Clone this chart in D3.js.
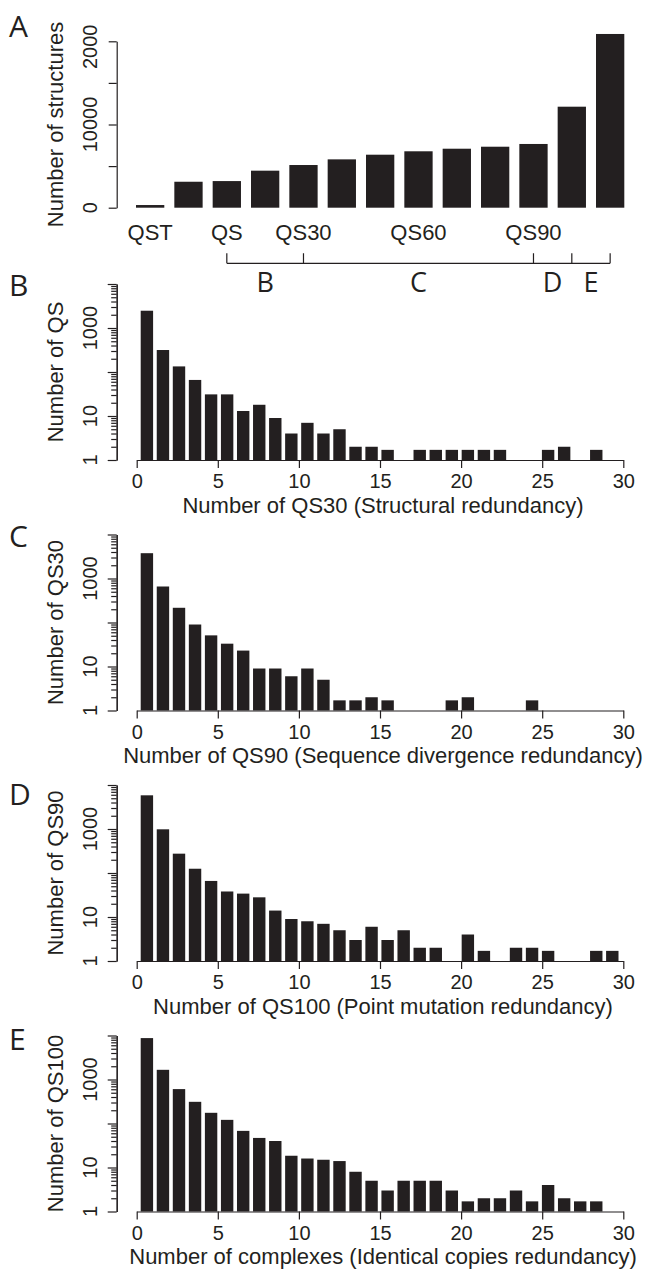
<!DOCTYPE html>
<html><head><meta charset="utf-8">
<script src="https://cdn.jsdelivr.net/npm/d3@7"></script>
<style>body{margin:0;background:#fff}svg{display:block}</style>
</head><body><svg id="c" width="652" height="1269"></svg>
<script>
// ---------- DATA ----------
// Panel A
const structCats = ["QST","b2","QS","b4","QS30","b6","b7","QS60","b9","b10","QS90","b12","b13"];
const structShown = ["QST","QS","QS30","QS60","QS90"];
const structValues = [320,3120,3200,4450,5130,5810,6370,6780,7090,7330,7660,12140,20880];
const structTicks = [0,5000,10000,15000,20000];
const structTickLabels = [0,10000,20000];
const bracketBars = ["QS","QS30","QS90","b12","b13"];
const bracketLabels = ["B","C","D","E"];

// Panels B-E: counts per bin 1..30
const bins = d3.range(1,31);
const qsCounts    = [2470,316,134,66,31,31,13,18,9,4,7,4,5,2,2,1.7,0,1.7,1.7,1.7,1.7,1.7,1.7,0,0,1.7,2,0,1.7,0];
const qs30Counts  = [3760,658,216,90,51,33,23,9,9,6,9,5,1.7,1.7,2,1.7,0,0,0,1.7,2,0,0,0,1.7,0,0,0,0,0];
const qs90Counts  = [5830,984,275,125,66,38,34,28,14,9,8,7,5,3,6,3,5,2,2,0,4,1.7,0,2,2,1.7,0,0,1.7,1.7];
const qs100Counts = [8730,1660,605,311,175,121,68,47,40,18.5,16,15,14,8,5,3,5,5,5,3,1.7,2,2,3,1.7,4,2,1.7,1.7,0];
const xTicks = [0,5,10,15,20,25,30];
const logMajor = [1,10,100,1000,10000];
const logMinor = [0,1,2,3].flatMap(k => d3.range(2,10).map(m => m*Math.pow(10,k)));
const logLabels = [1,10,1000];

const panelLetters = ["B","C","D","E"];
const yTitles = ["Number of QS","Number of QS30","Number of QS90","Number of QS100"];
const xTitles = ["Number of QS30 (Structural redundancy)",
                 "Number of QS90 (Sequence divergence redundancy)",
                 "Number of QS100 (Point mutation redundancy)",
                 "Number of complexes (Identical copies redundancy)"];
const panelData = [qsCounts, qs30Counts, qs90Counts, qs100Counts];

// ---------- STYLE / LAYOUT ----------
const ink = "#231f20";
const fontFam = "'Liberation Sans', Arial, Helvetica, sans-serif";
const letterFam = "'Open Sans', 'Noto Sans', sans-serif";
const tickFS = 20, titleFS = 22, letterFS = 30, bracketFS = 27;
const axisX = 116.7;

const svg = d3.select("#c");
svg.append("defs").append("clipPath").attr("id","clipTop")
  .append("rect").attr("x",0).attr("y",24).attr("width",652).attr("height",1245);

function styleAxis(g){
  g.selectAll("path.domain").attr("stroke", ink).attr("stroke-width", 1.2);
  g.selectAll(".tick line").attr("stroke", ink).attr("stroke-width", 1.2);
  g.selectAll(".tick text").attr("fill", ink).attr("font-family", fontFam).attr("font-size", tickFS);
}

// ---------- PANEL A ----------
const xA = d3.scaleBand().domain(structCats).range([136, 624.3]).paddingInner(0.2617).paddingOuter(0);
const yA = d3.scaleLinear().domain([0,20000]).range([207.7, 41.3]);
const gA = svg.append("g");
gA.selectAll("rect").data(structValues).join("rect")
  .attr("x",(d,i)=>xA(structCats[i])).attr("width",xA.bandwidth())
  .attr("y",d=>yA(d)).attr("height",d=>yA(0)-yA(d)).attr("fill",ink);
gA.append("g").attr("transform",`translate(${axisX},0)`)
  .call(d3.axisLeft(yA).tickValues(structTicks).tickSize(8).tickSizeOuter(0).tickFormat(""))
  .call(styleAxis);
gA.append("g").attr("clip-path","url(#clipTop)")
  .selectAll("text").data(structTickLabels).join("text")
  .attr("transform",d=>`translate(97,${yA(d)}) rotate(-90)`)
  .attr("text-anchor","middle").attr("font-family",fontFam).attr("font-size",tickFS).attr("fill",ink)
  .text(d=>String(d));
gA.append("text").attr("transform",`translate(63,${(yA.range()[0]+yA.range()[1])/2}) rotate(-90)`)
  .attr("text-anchor","middle").attr("font-family",fontFam).attr("font-size",titleFS).attr("fill",ink)
  .text("Number of structures");
gA.selectAll("text.cat").data(structShown).join("text").attr("class","cat")
  .attr("x",d=>xA(d)+xA.bandwidth()/2).attr("y",240)
  .attr("text-anchor","middle").attr("font-family",fontFam).attr("font-size",titleFS).attr("fill",ink)
  .text(d=>d);
// bracket
const bc = d=>xA(d)+xA.bandwidth()/2;
const brY = 263.3, brTop = 253.3;
let p = d3.path();
p.moveTo(bc(bracketBars[0]), brY); p.lineTo(bc(bracketBars[bracketBars.length-1]), brY);
bracketBars.forEach(b=>{p.moveTo(bc(b), brY); p.lineTo(bc(b), brTop);});
gA.append("path").attr("d",p.toString()).attr("stroke",ink).attr("stroke-width",1.2).attr("fill","none");
gA.selectAll("text.br").data(bracketLabels).join("text").attr("class","br")
  .attr("x",(d,i)=>(bc(bracketBars[i])+bc(bracketBars[i+1]))/2).attr("y",292)
  .attr("text-anchor","middle").attr("font-family",letterFam).attr("font-size",bracketFS).attr("fill",ink)
  .text(d=>d);
svg.append("text").attr("x",9).attr("y",37).attr("font-family",letterFam).attr("font-size",letterFS)
  .attr("fill",ink).text("A");

// ---------- PANELS B-E ----------
const bases = [460, 710.5, 961, 1211.5];
const letterY = [296, 547, 805, 1050];
const xL = d3.scaleLinear().domain([0,30]).range([136.7, 623.3]);
const xB = d3.scaleBand().domain(bins).range([140.7, 618.5]).paddingInner(0.2274).paddingOuter(0);

panelData.forEach((vals, pi)=>{
  const base = bases[pi];
  const y = d3.scaleLog().domain([1,10000]).range([base, base-176]);
  const g = svg.append("g");
  g.selectAll("rect").data(vals.map((v,i)=>({v, k:bins[i]})).filter(d=>d.v>1)).join("rect")
    .attr("x",d=>xB(d.k)).attr("width",xB.bandwidth())
    .attr("y",d=>y(d.v)).attr("height",d=>base-y(d.v)).attr("fill",ink);
  // y axis
  g.append("g").attr("transform",`translate(${axisX},0)`)
    .call(d3.axisLeft(y).tickValues(logMinor).tickSize(5.5).tickSizeOuter(0).tickFormat(""))
    .call(styleAxis);
  g.append("g").attr("transform",`translate(${axisX},0)`)
    .call(d3.axisLeft(y).tickValues(logMajor).tickSize(9).tickSizeOuter(0).tickFormat(""))
    .call(styleAxis);
  g.selectAll("text.yl").data(logLabels).join("text").attr("class","yl")
    .attr("transform",d=>`translate(97,${y(d)}) rotate(-90)`)
    .attr("text-anchor","middle").attr("font-family",fontFam).attr("font-size",tickFS).attr("fill",ink)
    .text(d=>String(d));
  // x axis
  g.append("g").attr("transform",`translate(0,${base})`)
    .call(d3.axisBottom(xL).tickValues(xTicks).tickSize(8).tickSizeOuter(0).tickPadding(5.8))
    .call(styleAxis);
  // titles
  g.append("text").attr("x",383).attr("y",base+52.8)
    .attr("text-anchor","middle").attr("font-family",fontFam).attr("font-size",titleFS).attr("fill",ink)
    .text(xTitles[pi]);
  g.append("text").attr("transform",`translate(63,${base-88}) rotate(-90)`)
    .attr("text-anchor","middle").attr("font-family",fontFam).attr("font-size",titleFS).attr("fill",ink)
    .text(yTitles[pi]);
  svg.append("text").attr("x",9).attr("y",letterY[pi]).attr("font-family",letterFam).attr("font-size",letterFS)
    .attr("fill",ink).text(panelLetters[pi]);
});
</script></body></html>
